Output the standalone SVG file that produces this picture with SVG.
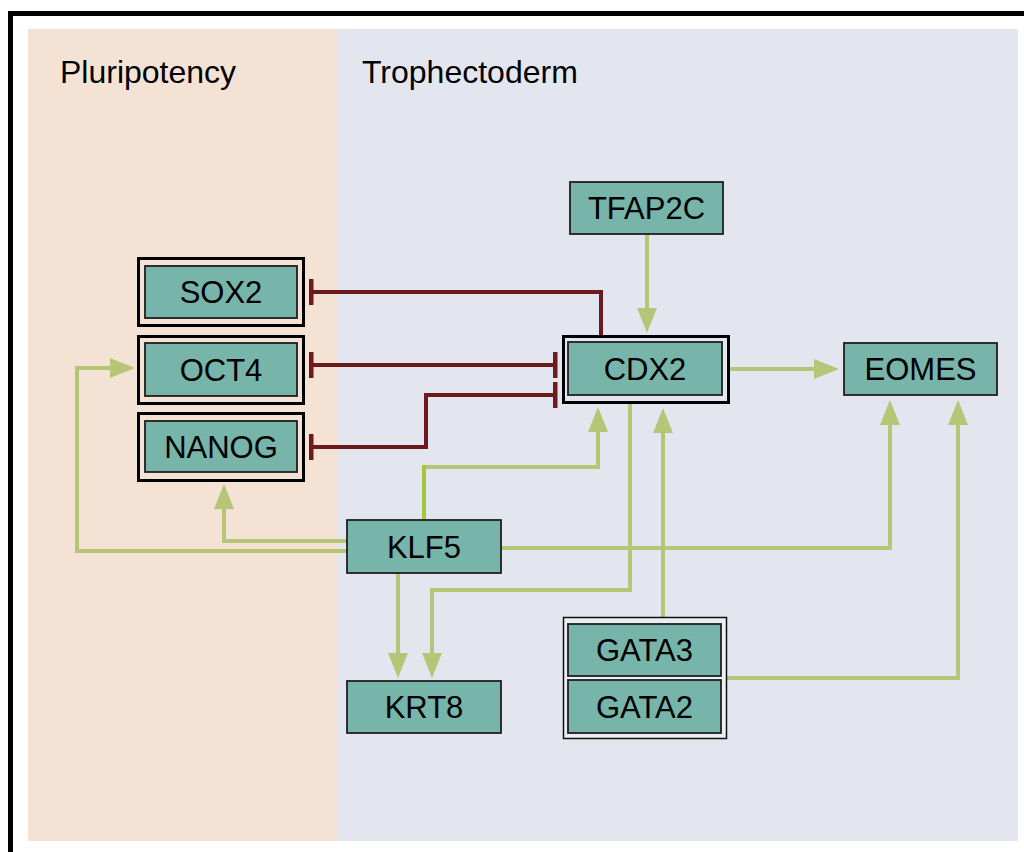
<svg xmlns="http://www.w3.org/2000/svg" width="1024" height="852" viewBox="0 0 1024 852">
<defs>
<style>
.node{fill:#77b4a9;stroke:#1e1e1e;stroke-width:1.8}
.ring{fill:none;stroke:#000;stroke-width:3}
.lbl{font-family:"Liberation Sans",Arial,sans-serif;font-size:31px;fill:#000;text-anchor:middle}
.title{font-family:"Liberation Sans",Arial,sans-serif;font-size:32px;fill:#000}
.act{fill:none;stroke:#b6c676;stroke-width:4;marker-end:url(#arrow)}
.inh{fill:none;stroke:#6d1a1c;stroke-width:4}
</style>
<marker id="arrow" markerUnits="userSpaceOnUse" markerWidth="26" markerHeight="22" viewBox="0 0 26 22" refX="1" refY="11" orient="auto">
<path d="M0,1 L25,11 L0,21 z" fill="#b6c676"/>
</marker>
<marker id="bar" markerUnits="userSpaceOnUse" markerWidth="5" markerHeight="26" viewBox="0 0 5 26" refX="2.5" refY="13" orient="auto">
<rect x="0" y="0" width="5" height="26" fill="#6d1a1c"/>
</marker>
</defs>
<rect x="0" y="0" width="1024" height="852" fill="#ffffff"/>
<rect x="28" y="29" width="310" height="812" fill="#f4e3d5"/>
<rect x="338" y="29" width="680" height="812" fill="#e3e6ee"/>
<path d="M10.5,852 V13.5 H1024" fill="none" stroke="#000" stroke-width="5"/>
<text class="title" x="60" y="83">Pluripotency</text>
<text class="title" x="362" y="83">Trophectoderm</text>

<g id="connectors">
<path class="act" d="M647,234 V309"/>
<path class="act" d="M729,369 H815"/>
<path class="act" d="M501,548 H890 V424"/>
<path class="act" d="M727,678 H958 V424"/>
<path class="act" d="M663,617 V432"/>
<path class="act" d="M424,467 H598 V431"/>
<path d="M424,520 V465" fill="none" stroke="#a9c43e" stroke-width="4"/>
<path class="act" d="M630,403 V590 H432 V654"/>
<path class="act" d="M398,573 V654"/>
<path class="act" d="M347,541 H224 V508"/>
<path class="act" d="M347,551 H77 V368 H111"/>
<path class="inh" d="M601,335 V292 H311" marker-end="url(#bar)"/>
<path class="inh" d="M311,365 H555" marker-start="url(#bar)" marker-end="url(#bar)"/>
<path class="inh" d="M555,395 H426 V447 H311" marker-start="url(#bar)" marker-end="url(#bar)"/>
</g>

<g id="SOX2">
<rect class="ring" x="138.5" y="258.5" width="165" height="67"/>
<rect class="node" x="145" y="266" width="152" height="52"/>
<text class="lbl" x="221" y="303">SOX2</text>
</g>
<g id="OCT4">
<rect class="ring" x="138.5" y="336.5" width="165" height="67"/>
<rect class="node" x="145" y="343" width="152" height="53"/>
<text class="lbl" x="221" y="380.5">OCT4</text>
</g>
<g id="NANOG">
<rect class="ring" x="138.5" y="413.5" width="165" height="67"/>
<rect class="node" x="145" y="421" width="152" height="51"/>
<text class="lbl" x="221" y="457.5">NANOG</text>
</g>
<g id="TFAP2C">
<rect class="node" x="570" y="182" width="153" height="52"/>
<text class="lbl" x="646.5" y="219">TFAP2C</text>
</g>
<g id="CDX2">
<rect class="ring" x="563.5" y="336.5" width="165" height="66"/>
<rect class="node" x="568" y="342" width="154" height="53"/>
<text class="lbl" x="645" y="379.5">CDX2</text>
</g>
<g id="EOMES">
<rect class="node" x="844" y="343" width="153" height="52"/>
<text class="lbl" x="920.5" y="380">EOMES</text>
</g>
<g id="KLF5">
<rect class="node" x="347" y="520" width="154" height="53"/>
<text class="lbl" x="424" y="557.5">KLF5</text>
</g>
<g id="KRT8">
<rect class="node" x="347" y="681" width="154" height="52"/>
<text class="lbl" x="424" y="718">KRT8</text>
</g>
<g id="GATA">
<rect x="563.5" y="617.5" width="163" height="121" fill="#eceef3" stroke="#111" stroke-width="1.5"/>
<g id="GATA3">
<rect class="node" x="568" y="624" width="153" height="52"/>
<text class="lbl" x="644.5" y="661">GATA3</text>
</g>
<g id="GATA2">
<rect class="node" x="568" y="680" width="153" height="53"/>
<text class="lbl" x="644.5" y="717.5">GATA2</text>
</g>
</g>
</svg>
